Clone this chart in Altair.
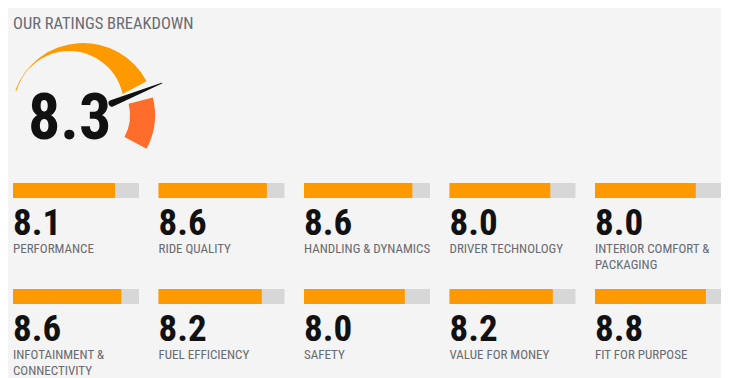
import math
import altair as alt
import pandas as pd

# ---------------- data ----------------
title_text = "OUR RATINGS BREAKDOWN"
overall_score = 8.3
max_score = 10
categories = [
    "PERFORMANCE", "RIDE QUALITY", "HANDLING & DYNAMICS", "DRIVER TECHNOLOGY",
    "INTERIOR COMFORT & PACKAGING", "INFOTAINMENT & CONNECTIVITY", "FUEL EFFICIENCY",
    "SAFETY", "VALUE FOR MONEY", "FIT FOR PURPOSE",
]
labels = [
    "PERFORMANCE", "RIDE QUALITY", "HANDLING & DYNAMICS", "DRIVER TECHNOLOGY",
    "INTERIOR COMFORT &\nPACKAGING", "INFOTAINMENT &\nCONNECTIVITY", "FUEL EFFICIENCY",
    "SAFETY", "VALUE FOR MONEY", "FIT FOR PURPOSE",
]
scores = [8.1, 8.6, 8.6, 8.0, 8.0, 8.6, 8.2, 8.0, 8.2, 8.8]

# ---------------- style ----------------
BG = "#f4f4f4"
ORANGE = "#ff9900"
RED = "#ff6d2a"
GRAY = "#d7d7d7"
INK = "#111111"
LABEL = "#686b72"
COND = "Roboto Condensed, Open Sans Condensed, DejaVu Sans Condensed, sans-serif"

W = 708          # width of the grid (5 panels)
TOP_H = 175      # height of the header area
PW, PH = 126, 70 # panel size
COL_GAP, ROW_GAP = 19.5, 36

# gauge geometry (pixels in the header view)
CX, CY, R_OUT = 70, 107, 72
CUT_X, CUT_Y, R_CUT = 56.2, 97.7, 54.7
NEEDLE_ANGLE = math.radians(68)

one = pd.DataFrame({"k": [0]})

title = alt.Chart(one).mark_text(
    text=title_text, align="left", baseline="alphabetic", font=COND,
    fontSize=16.5, color=LABEL,
).encode(x=alt.value(0), y=alt.value(21))

orange_arc = alt.Chart(one).mark_arc(
    color=ORANGE, radius=R_OUT, theta=math.radians(290.2), theta2=math.radians(422),
).encode(x=alt.value(CX), y=alt.value(CY))

cutout = alt.Chart(one).mark_arc(
    color=BG, radius=R_CUT, theta=0, theta2=2 * math.pi,
).encode(x=alt.value(CUT_X), y=alt.value(CUT_Y))

red_arc = alt.Chart(one).mark_arc(
    color=RED, radius=R_OUT, radius2=47, theta=math.radians(76), theta2=math.radians(118),
).encode(x=alt.value(CX), y=alt.value(CY))

needle_df = pd.DataFrame({
    "x": [CX + r * math.sin(NEEDLE_ANGLE) for r in (31, 85)],
    "y": [CY - r * math.cos(NEEDLE_ANGLE) for r in (31, 85)],
    "w": [6.5, 1.0],
})
needle = alt.Chart(needle_df).mark_trail(color=INK).encode(
    x=alt.X("x:Q", scale=None, axis=None),
    y=alt.Y("y:Q", scale=None, axis=None),
    size=alt.Size("w:Q", scale=None, legend=None),
)

score_txt = alt.Chart(pd.DataFrame({"score": [overall_score]})).mark_text(
    align="left", baseline="alphabetic", font=COND, fontSize=64,
    fontWeight="bold", color=INK,
).encode(x=alt.value(15), y=alt.value(131), text=alt.Text("score:Q", format=".1f"))

top = alt.layer(title, orange_arc, cutout, red_arc, needle, score_txt).properties(
    width=W, height=TOP_H
)

# ---------------- grid of ratings ----------------
df = pd.DataFrame({"cat": categories, "label": labels, "score": scores})
df["zero"] = 0
df["max"] = max_score

xs = alt.Scale(domain=[0, max_score])


def cell(cat):
    gray_bar = alt.Chart().mark_bar(color=GRAY).encode(
        x=alt.X("zero:Q", scale=xs, axis=None), x2="max:Q",
        y=alt.value(0), y2=alt.value(15),
    )
    orange_bar = alt.Chart().mark_bar(color=ORANGE).encode(
        x=alt.X("zero:Q", scale=xs, axis=None), x2="score:Q",
        y=alt.value(0), y2=alt.value(15),
    )
    value_txt = alt.Chart().mark_text(
        align="left", baseline="alphabetic", font=COND, fontSize=37,
        fontWeight="bold", color=INK,
    ).encode(x=alt.value(0), y=alt.value(52), text=alt.Text("score:Q", format=".1f"))
    label_txt = alt.Chart().mark_text(
        align="left", baseline="alphabetic", font=COND, fontSize=13,
        color=LABEL, lineBreak="\n", lineHeight=16,
    ).encode(x=alt.value(0), y=alt.value(69.5), text="label:N")
    return alt.layer(
        gray_bar, orange_bar, value_txt, label_txt, data=df
    ).transform_filter(alt.datum.cat == cat).properties(width=PW, height=PH)


grid = alt.concat(
    *[cell(c) for c in categories], columns=5,
    spacing={"row": ROW_GAP, "column": COL_GAP}, bounds="flush",
)

chart = alt.vconcat(
    top, grid, spacing=0,
    padding={"left": 5, "top": 0, "right": 0, "bottom": 0},
    background=BG,
).configure_view(strokeWidth=0)

chart.save("out.html", embed_options={"renderer": "svg", "actions": False})
